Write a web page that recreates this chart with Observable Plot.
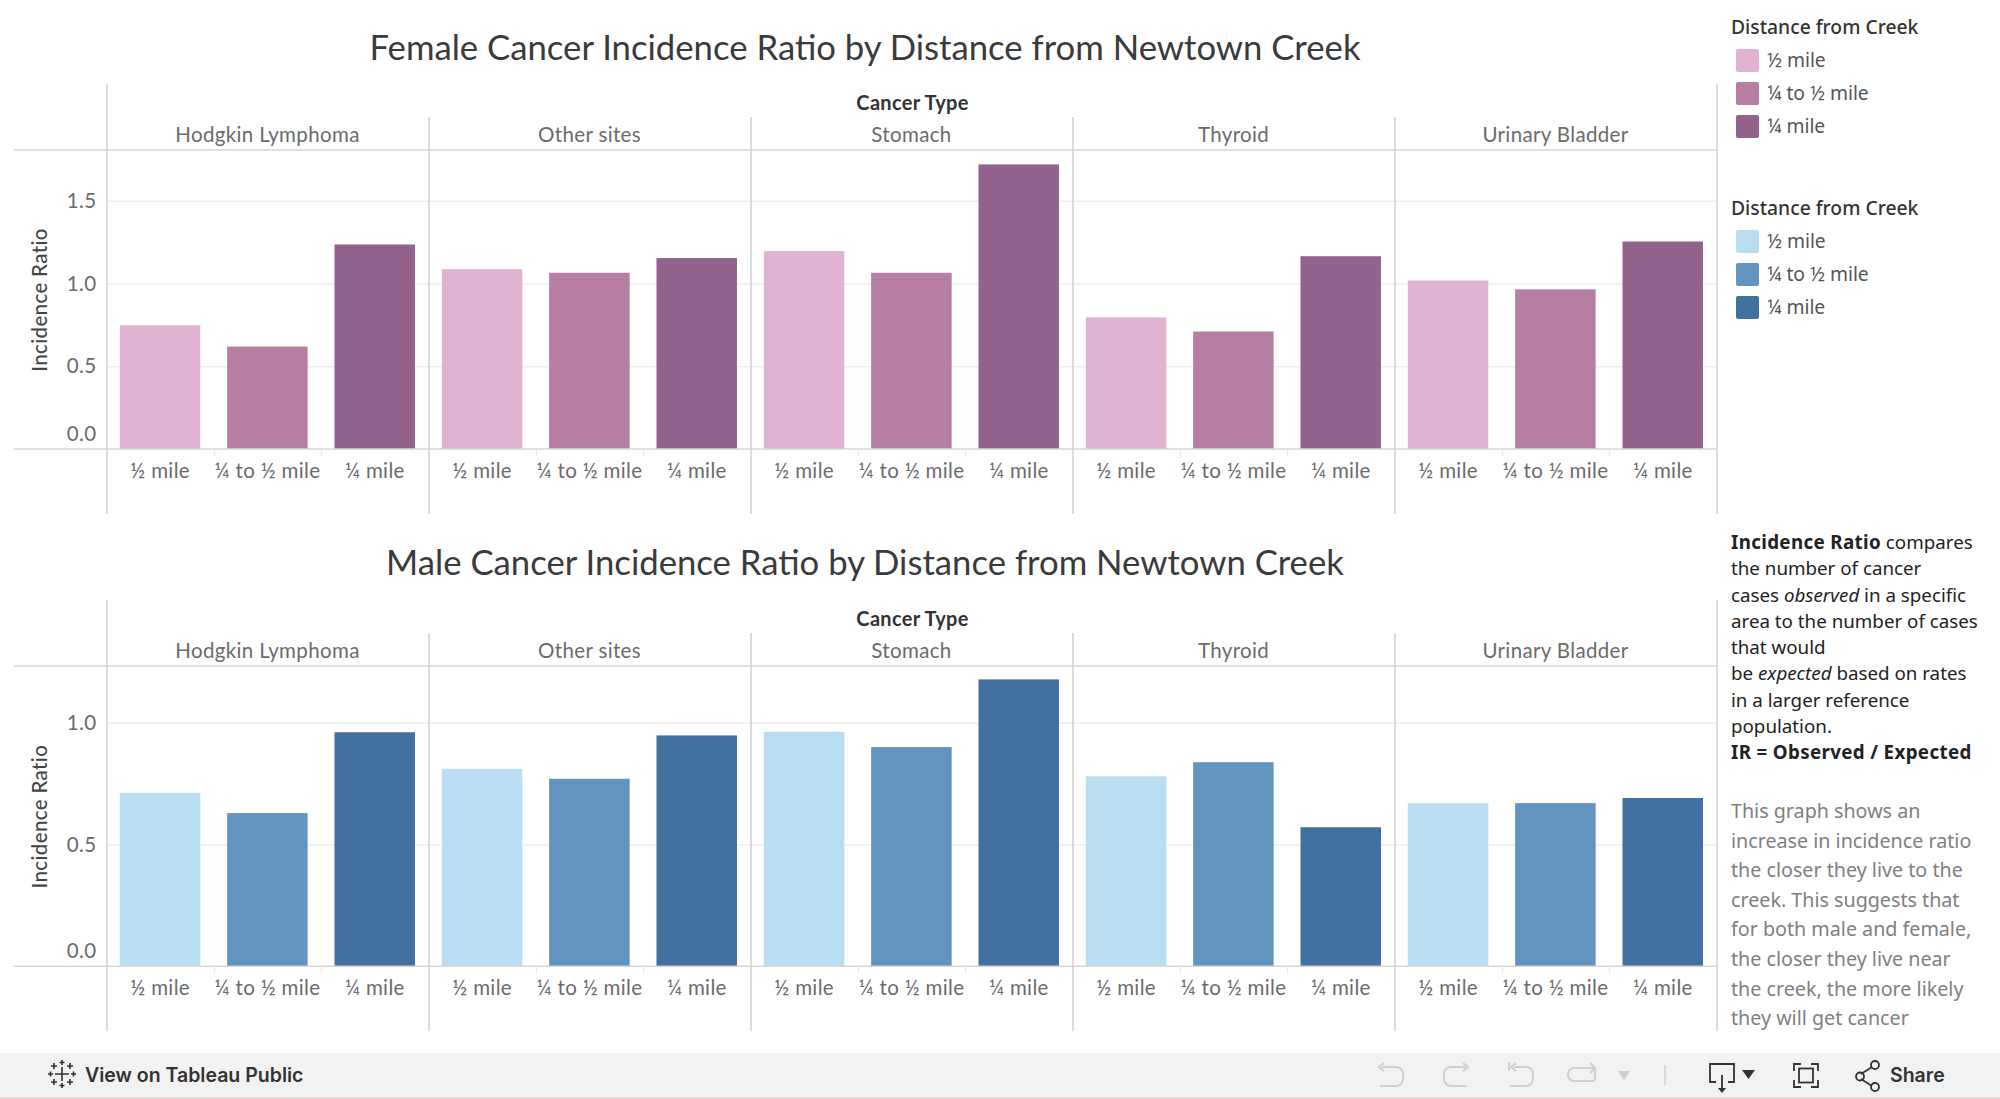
<!DOCTYPE html>
<html><head><meta charset="utf-8">
<script src="https://cdn.jsdelivr.net/npm/d3@7"></script>
<script src="https://cdn.jsdelivr.net/npm/@observablehq/plot@0.6"></script>
<style>
html,body{margin:0;padding:0;background:#fff;}
body{position:relative;width:2000px;height:1099px;overflow:hidden;font-family:Lato,sans-serif;}
.abs{position:absolute;white-space:nowrap;}
.title{left:107px;width:1516px;text-align:center;font-size:34.7px;color:#3a3a3a;line-height:40px;}
.lt{left:1731px;font-size:19.3px;font-weight:500;color:#333;font-family:"Noto Sans";line-height:24px;}
.lab{left:1767px;font-size:19.3px;color:#555;font-family:"Noto Sans";line-height:22px;}
.sw{left:1736px;width:23px;height:23px;border-radius:2px;}
.p1{left:1731px;top:529px;font-family:"Noto Sans";font-size:18.75px;line-height:26.3px;color:#222;}
.p1 b{letter-spacing:.35px;}
.p2{left:1731px;top:796px;font-family:"Noto Sans";font-size:19.7px;line-height:29.6px;color:#808080;}
svg.plot{position:absolute;left:0;overflow:visible;}
g[aria-label="fx-axis label"] text{font-weight:700;fill:#333;font-size:20px;letter-spacing:.3px;}
g[aria-label="y-axis label"] text{font-weight:500;fill:#444;}
#bar{position:absolute;left:0;top:1053px;width:2000px;height:44px;background:#f2f2f2;border-bottom:2px solid #e6dfd6;}
</style></head><body>
<script>
const cancerTypes = ["Hodgkin Lymphoma","Other sites","Stomach","Thyroid","Urinary Bladder"];
const distances = ["½ mile","¼ to ½ mile","¼ mile"];
const femaleHalf    = [0.748,1.087,1.196,0.795,1.018];
const femaleMiddle  = [0.619,1.065,1.065,0.710,0.965];
const femaleQuarter = [1.236,1.154,1.720,1.165,1.254];
const maleHalf      = [0.712,0.811,0.963,0.780,0.670];
const maleMiddle    = [0.629,0.770,0.900,0.838,0.670];
const maleQuarter   = [0.961,0.948,1.178,0.571,0.691];
const femaleColors = ["#dfb3d1","#b77ea3","#93638d"];
const maleColors   = ["#b9ddf1","#6393bf","#42709f"];
const femaleTicks = [0.5,1.0,1.5];
const maleTicks   = [0.5,1.0];
const femaleTitle = "Female Cancer Incidence Ratio by Distance from Newtown Creek";
const maleTitle   = "Male Cancer Incidence Ratio by Distance from Newtown Creek";
const legendTitle = "Distance from Creek";

function rows(series){
  return cancerTypes.flatMap((c,i)=>distances.map((d,j)=>({cancer:c,distance:d,ratio:series[j][i]})));
}
function el(cls,css,html){
  const d=document.createElement('div');d.className='abs '+cls;d.style.cssText=css;d.innerHTML=html;document.body.appendChild(d);return d;
}
function chart(series,colors,ticks,yMax,top,height,marginBottom){
  const plot=Plot.plot({
    width:2000,height,marginLeft:107,marginRight:283,marginTop:150,marginBottom,
    style:{fontFamily:"Lato",fontSize:"20.5px",letterSpacing:"0.35px",color:"#6b6b6b",background:"transparent"},
    fx:{domain:cancerTypes,padding:0,round:false,label:null},
    x:{domain:distances,paddingInner:0.25,paddingOuter:0.125,round:false,label:null},
    y:{domain:[0,yMax],label:null},
    color:{domain:distances,range:colors},
    marks:[
      Plot.gridY(ticks,{stroke:"#efefef",strokeOpacity:1,strokeWidth:1.5}),
      Plot.barY(rows(series),{fx:"cancer",x:"distance",y:"ratio",fill:"distance",dx:-0.6}),
      Plot.axisY({ticks,tickSize:0,tickPadding:11,tickFormat:".1f",label:"Incidence Ratio",labelAnchor:"center",labelArrow:"none",labelOffset:75}),
      Plot.axisY({ticks:[0],tickSize:0,tickPadding:11,tickFormat:".1f",label:null,dy:-15}),
      Plot.axisX({tickSize:0,tickPadding:14,label:null,dx:-1}),
      Plot.axisFx({anchor:"top",tickSize:0,tickPadding:9,label:"Cancer Type",labelAnchor:"center",labelArrow:"none",labelOffset:55,dx:-1})
    ]
  });
  plot.classList.add('plot');
  plot.style.top=top+'px';
  const fx=plot.scale('fx'),y=plot.scale('y');
  const bw=fx.bandwidth;
  const lefts=cancerTypes.map(c=>fx.apply(c));
  const edges=[...lefts,lefts[lefts.length-1]+bw];
  const y0=y.apply(0),y1=y.apply(yMax);
  const g=d3.select(plot).append('g').attr('aria-label','panel rules');
  [y1,y0].forEach(v=>g.append('line').attr('x1',14).attr('x2',edges[edges.length-1]).attr('y1',v).attr('y2',v).attr('stroke','#d6d6d6').attr('stroke-width',1.6));
  edges.forEach((e,i)=>{
    const outer=i===0||i===edges.length-1;
    g.append('line').attr('x1',e).attr('x2',e).attr('y1',y1-(outer?66:33)).attr('y2',y0+65).attr('stroke','#cfcfcf').attr('stroke-width',1.5);
  });
  lefts.forEach(l=>[1/3,2/3].forEach(f=>g.append('line').attr('x1',l+bw*f).attr('x2',l+bw*f).attr('y1',y0).attr('y2',y0+7).attr('stroke','#e6e6e6').attr('stroke-width',1)));
  document.body.appendChild(plot);
}
chart([femaleHalf,femaleMiddle,femaleQuarter],femaleColors,femaleTicks,1.807,0,516,67);
chart([maleHalf,maleMiddle,maleQuarter],maleColors,maleTicks,1.233,516,518,67.7);

el('title','top:27px',femaleTitle);
el('title','top:542px',maleTitle);

function legend(colors,titleTop,swTops){
  el('lt',`top:${titleTop}px`,legendTitle);
  distances.forEach((d,i)=>{
    el('sw',`top:${swTops[i]}px;background:${colors[i]}`,'');
    el('lab',`top:${swTops[i]}px`,d);
  });
}
legend(femaleColors,15,[49,82,115]);
legend(maleColors,196,[230,263,296]);

el('p1','',`<b>Incidence Ratio</b> compares<br>the number of cancer<br>cases <i>observed</i> in a specific<br>area to the number of cases<br>that would<br>be <i>expected</i> based on rates<br>in a larger reference<br>population.<br><b>IR = Observed / Expected</b>`);
el('p2','',`This graph shows an<br>increase in incidence ratio<br>the closer they live to the<br>creek. This suggests that<br>for both male and female,<br>the closer they live near<br>the creek, the more likely<br>they will get cancer`);

const bar=document.createElement('div');bar.id='bar';
bar.innerHTML=`<svg width="2000" height="44" style="display:block">
<g stroke="#333" stroke-width="1.6" fill="none">
<path d="M62 14v14M55 21h14M62 7v5M59.500 9.500h5M62 30v5M59.500 32.500h5M50.500 18.500v5M48 21h5M73.500 18.500v5M71 21h5M54 10v6M51 13h6M70 10v6M67 13h6M54 26v6M51 29h6M70 26v6M67 29h6"/>
</g>
<g fill="none" stroke="#cfcfcf" stroke-width="2">
<path d="M1382 14h14a7 7 0 0 1 7 7v5a7 7 0 0 1-7 7h-16M1384 10l-5 4 5 4"/>
<path d="M1465 14h-14a7 7 0 0 0-7 7v5a7 7 0 0 0 7 7h16M1463 10l5 4-5 4"/>
<path d="M1514 14h12a7 7 0 0 1 7 7v5a7 7 0 0 1-7 7h-16M1516 10l-5 4 5 4M1509 9v9"/>
<path d="M1574 15h18a3 3 0 0 1 3 3v7a3 3 0 0 1-3 3h-18a6 6 0 0 1-6-6v-1a6 6 0 0 1 6-6M1590 10l5 5-5 5"/>
</g>
<path d="M1618 18h12l-6 9z" fill="#cfcfcf"/>
<path d="M1665 12v20" stroke="#cfcfcf" stroke-width="1.5"/>
<g fill="none" stroke="#333" stroke-width="1.8">
<path d="M1716 29h-6v-18h24v18h-6M1722 22v14"/>
<path d="M1794 18v-7h7M1811 11h7v7M1818 27v7h-7M1801 34h-7v-7"/>
<rect x="1799" y="15.500" width="14" height="14"/>
<path d="M1872 14l-11 7M1861 26l11 7"/>
<circle cx="1875" cy="12" r="4"/><circle cx="1860" cy="23.500" r="4"/><circle cx="1875" cy="34" r="4"/>
</g>
<path d="M1718 35h8l-4 5z" fill="#333"/>
<path d="M1742 17h13l-6.500 9z" fill="#333"/>
<text x="85" y="29" font-family="Inter" font-size="19.500" font-weight="600" fill="#333">View on Tableau Public</text>
<text x="1890" y="29" font-family="Inter" font-size="19.500" font-weight="600" fill="#333">Share</text>
</svg>`;
document.body.appendChild(bar);
</script>
</body></html>
